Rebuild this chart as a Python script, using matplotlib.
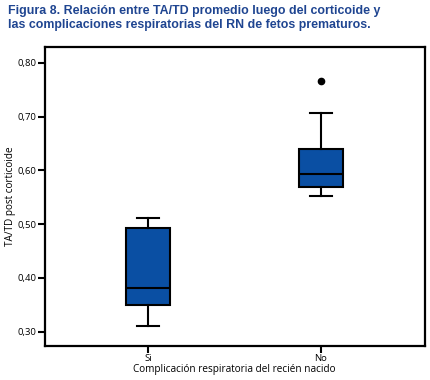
import matplotlib
matplotlib.use("Agg")
import matplotlib.pyplot as plt
from matplotlib import font_manager

categories = ["Si", "No"]
whislo = [0.311, 0.553]
q1 = [0.350, 0.569]
med = [0.382, 0.594]
q3 = [0.493, 0.639]
whishi = [0.512, 0.706]
fliers = [[], [0.766]]
yticks = [0.30, 0.40, 0.50, 0.60, 0.70, 0.80]
ytick_labels = ["0,30", "0,40", "0,50", "0,60", "0,70", "0,80"]

title = ("Figura 8. Relación entre TA/TD promedio luego del corticoide y\n"
         "las complicaciones respiratorias del RN de fetos prematuros.")

available = {f.name for f in font_manager.fontManager.ttflist}
if "Liberation Sans Narrow" in available:
    title_family = ["Liberation Sans Narrow", "DejaVu Sans"]
    title_size = 10.8
else:
    title_family = ["Liberation Sans", "DejaVu Sans"]
    title_size = 8.9

fig = plt.figure(figsize=(4.3, 3.8), dpi=100)
ax = fig.add_axes([0.1035, 0.0903, 0.8845, 0.7857])

stats = []
for i in range(len(categories)):
    stats.append(dict(label=categories[i], whislo=whislo[i], q1=q1[i], med=med[i],
                      q3=q3[i], whishi=whishi[i], fliers=fliers[i]))

box_color = "#0A4FA3"
ax.bxp(stats, positions=[1, 2], widths=0.25, patch_artist=True,
       boxprops=dict(facecolor=box_color, edgecolor="black", linewidth=1.5),
       medianprops=dict(color="black", linewidth=1.5),
       whiskerprops=dict(color="black", linewidth=1.5),
       capprops=dict(color="black", linewidth=1.5),
       capwidths=0.13,
       flierprops=dict(marker="o", markerfacecolor="black", markeredgecolor="black",
                       markersize=4.5))

ax.set_xlim(0.402, 2.601)
ax.set_ylim(0.274, 0.829)
ax.set_yticks(yticks)
ax.set_yticklabels(ytick_labels)
ax.set_xticks([1, 2])
ax.set_xticklabels(categories)

for s in ax.spines.values():
    s.set_linewidth(1.6)
ax.tick_params(axis="both", length=5, width=1.5, labelsize=6.8, pad=1, colors="black")
for lab in ax.get_xticklabels() + ax.get_yticklabels():
    lab.set_fontfamily(["Open Sans", "DejaVu Sans"])

ax.set_xlabel("Complicación respiratoria del recién nacido", fontsize=7.2,
              family=["Open Sans", "DejaVu Sans"], labelpad=1)
ax.set_ylabel("TA/TD post corticoide", fontsize=7.2,
              family=["Open Sans", "DejaVu Sans"], labelpad=1)

fig.text(0.019, 0.988, title, ha="left", va="top", fontsize=title_size, fontweight="bold",
         color="#1F4591", family=title_family, linespacing=1.3)

fig.savefig("out.png", dpi=100)
